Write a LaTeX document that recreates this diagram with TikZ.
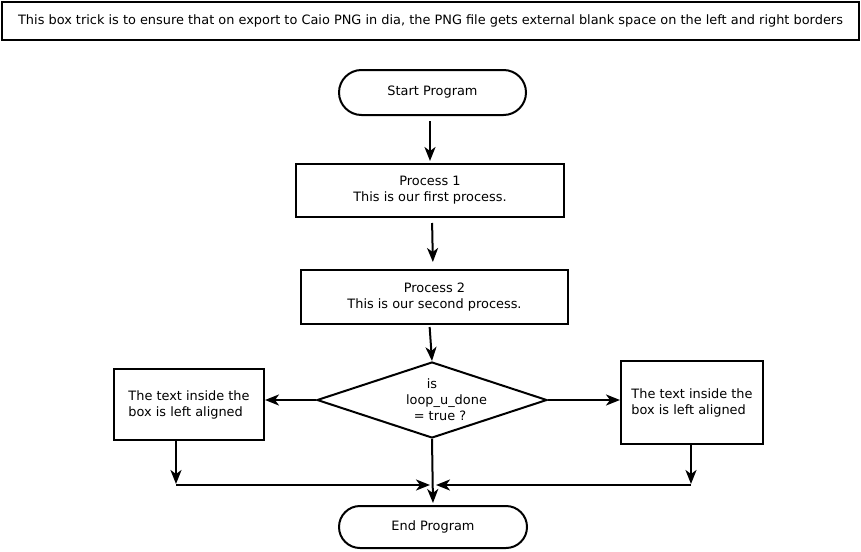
\documentclass[tikz,border=0pt]{standalone}
\usepackage{fontspec}
\setmainfont{DejaVu Sans}
\usetikzlibrary{shapes.geometric,shapes.misc,arrows.meta}
\begin{document}
\begin{tikzpicture}[x=1pt,y=-1pt, line width=2pt,
  font=\fontsize{12.9}{16}\selectfont,
  box/.style={draw, rectangle, inner sep=0pt, align=center},
  term/.style={draw, rounded rectangle, inner sep=0pt},
  lbox/.style={draw, rectangle, inner sep=0pt, align=left},
  arr/.style={-{Stealth[length=14pt,width=11pt,inset=4pt]}}]
\useasboundingbox (0,0) rectangle (861,551);
\node[box, minimum width=857, minimum height=38] (note) at (430.5,21)
  {This box trick is to ensure that on export to Caio PNG in dia, the PNG file gets external blank space on the left and right borders};
\node[term, minimum width=187, minimum height=45] (start) at (432.5,92.5) {Start Program};
\node[box, minimum width=268, minimum height=53] (p1) at (430,190.5) {Process 1\\This is our first process.};
\node[box, minimum width=267, minimum height=54] (p2) at (434.5,297) {Process 2\\This is our second process.};
\node[draw, diamond, minimum width=230, minimum height=76, inner sep=0pt, aspect=3,
  label={[align=center]center:{is\\\hspace*{29pt}loop\_u\_done\\\hspace*{16pt}= true ?}}] (dec) at (432,400) {};
\node[lbox, minimum width=150, minimum height=71] (L) at (189,404.5) {The text inside the\\box is left aligned};
\node[lbox, minimum width=142, minimum height=83] (R) at (692,402.5) {The text inside the\\box is left aligned};
\node[term, minimum width=188, minimum height=42] (end) at (433,527) {End Program};
\coordinate (jl) at (176,485);
\coordinate (jr) at (691,485);
\coordinate (jc) at (433,485);
\draw[arr, shorten <=5pt, shorten >=2pt] (p1.north |- start.south) -- (p1.north);
\draw[arr, shorten <=5pt, shorten >=7pt] ([xshift=2pt]p1.south) -- ([xshift=-1.5pt]p2.north);
\draw[arr, shorten <=2pt] ([xshift=-5pt]p2.south) -- (dec.north);
\draw[arr] (dec.west) -- (dec.west -| L.east);
\draw[arr] (dec.east) -- (dec.east -| R.west);
\draw[arr, shorten >=1pt] (L.south -| jl) -- (jl);
\draw[arr, shorten >=1pt] (R.south -| jr) -- (jr);
\draw[arr, shorten >=3pt] (jl) -- (jc);
\draw[arr, shorten >=3pt] (jr) -- (jc);
\draw[arr, shorten >=2pt] (dec.south) -- (end.north);
\end{tikzpicture}
\end{document}
